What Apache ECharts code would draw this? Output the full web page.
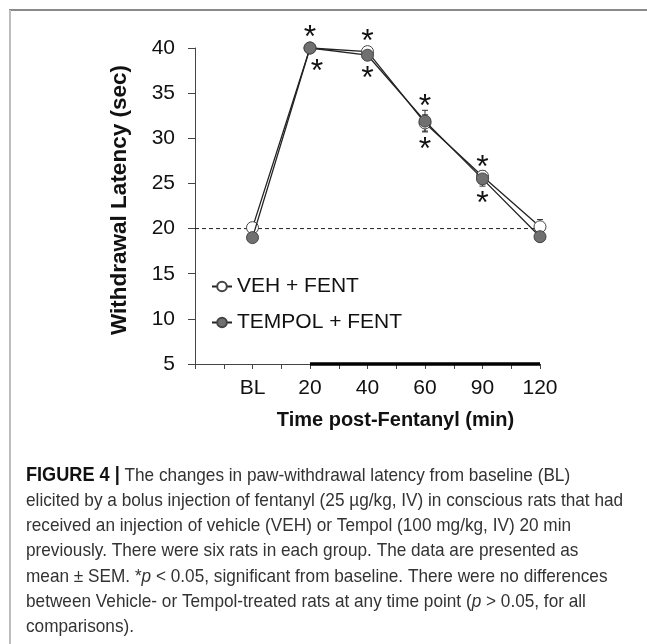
<!DOCTYPE html>
<html><head><meta charset="utf-8">
<script src="https://cdn.jsdelivr.net/npm/echarts@6/dist/echarts.min.js"></script>
<style>html,body{margin:0;padding:0;background:#fff}#c{width:647px;height:644px}</style>
</head><body><div id="c"></div>
<script>
// ---- data ----
const categories = ['BL', '20', '40', '60', '90', '120'];
const vehMean    = [20.1, 40.0, 39.6, 31.7, 25.8, 20.2];
const vehSem     = [0.4, 0.2, 0.4, 0.9, 0.6, 0.8];
const tempolMean = [19.0, 40.0, 39.2, 31.9, 25.5, 19.1];
const tempolSem  = [0.3, 0.2, 0.3, 1.2, 0.8, 0.3];
const vehSig     = [false, true, true, true, true, false];
const tempolSig  = [false, true, true, true, true, false];
const baselineValue = 20;
const fentanylStart = '20';
const fentanylEnd = '120';
const captionLines = [
  '{b|FIGURE 4 |} The changes in paw-withdrawal latency from baseline (BL)',
  'elicited by a bolus injection of fentanyl (25 µg/kg, IV) in conscious rats that had',
  'received an injection of vehicle (VEH) or Tempol (100 mg/kg, IV) 20 min',
  'previously. There were six rats in each group. The data are presented as',
  'mean ± SEM. *{i|p} < 0.05, significant from baseline. There were no differences',
  'between Vehicle- or Tempol-treated rats at any time point ({i|p} > 0.05, for all',
  'comparisons).'
];

// ---- helpers ----
const posOf = c => 2 * (categories.indexOf(c) + 1); // category slot on the axis
const FONT = '"Liberation Sans", Arial, sans-serif';

function pts(means, sig, offsets) {
  return means.map((m, i) => ({
    value: [posOf(categories[i]), m],
    label: {
      show: sig[i], formatter: '*', position: 'inside',
      offset: offsets[i],
      fontSize: 32, fontFamily: FONT, color: '#111'
    }
  }));
}
const vehOffsets = [[0,0],[0,-10],[0,-9],[0,-16],[0,-8],[0,0]];
const tempolOffsets = [[0,0],[7,24],[0,24],[0,29],[0,25],[0,0]];

function errData(means, sems) {
  return means.map((m, i) => [posOf(categories[i]), m, sems[i]]);
}
function errRender(params, api) {
  const x = api.value(0), m = api.value(1), s = api.value(2);
  const t = api.coord([x, m + s]), b = api.coord([x, m - s]);
  const w = 3;
  const st = { stroke: '#333', lineWidth: 1 };
  return { type: 'group', children: [
    { type: 'line', shape: { x1: t[0], y1: t[1], x2: b[0], y2: b[1] }, style: st },
    { type: 'line', shape: { x1: t[0]-w, y1: t[1], x2: t[0]+w, y2: t[1] }, style: st },
    { type: 'line', shape: { x1: b[0]-w, y1: b[1], x2: b[0]+w, y2: b[1] }, style: st }
  ]};
}

const chart = echarts.init(document.getElementById('c'), null, { renderer: 'canvas' });

const captionGraphics = captionLines.map((t, i) => ({
  type: 'text', x: 26, y: 466 + i * 25.3, scaleX: 0.93, scaleY: 1,
  style: {
    text: t, fill: '#333', font: '18.5px ' + FONT,
    rich: {
      b: { fontFamily: FONT, fontWeight: 'bold', fontSize: 19.5, fill: '#111' },
      i: { fontStyle: 'italic', fontFamily: FONT, fontSize: 18.5, fill: '#333' }
    }
  }
}));

chart.setOption({
  animation: false,
  backgroundColor: '#fff',
  grid: { left: 195, top: 48, width: 345, height: 316, containLabel: false },
  xAxis: {
    type: 'value', min: 0, max: 12, interval: 1,
    axisLine: { lineStyle: { color: '#444', width: 1 } },
    axisTick: { show: true, length: 5, lineStyle: { color: '#444' } },
    splitLine: { show: false },
    axisLabel: {
      margin: 14, fontSize: 21, fontFamily: FONT, color: '#111',
      formatter: v => (v > 0 && v % 2 === 0) ? categories[v / 2 - 1] : ''
    },
    name: 'Time post-Fentanyl (min)', nameLocation: 'middle', nameGap: 46,
    nameTextStyle: { fontSize: 20, fontWeight: 'bold', fontFamily: FONT, color: '#111', padding: [0, 0, 0, 56] }
  },
  yAxis: {
    type: 'value', min: 5, max: 40, interval: 5,
    axisLine: { show: true, lineStyle: { color: '#444', width: 1 } },
    axisTick: { show: true, length: 7, lineStyle: { color: '#444' } },
    splitLine: { show: false },
    axisLabel: { margin: 20, fontSize: 21, fontFamily: FONT, color: '#111' },
    name: 'Withdrawal Latency (sec)', nameLocation: 'middle', nameGap: 64,
    nameTextStyle: { fontSize: 22.5, fontWeight: 'bold', fontFamily: FONT, color: '#111', padding: [0, 0, 0, 12] }
  },
  legend: {
    orient: 'vertical', left: 211, top: 276, padding: 0, itemGap: 15,
    itemWidth: 20, itemHeight: 12,
    textStyle: { fontSize: 21, fontFamily: FONT, color: '#111' },
    data: ['VEH + FENT', 'TEMPOL + FENT']
  },
  graphic: [
    { type: 'line', shape: { x1: 9, y1: 10, x2: 647, y2: 10 }, style: { stroke: '#8a8a8a', lineWidth: 2 } },
    { type: 'line', shape: { x1: 10, y1: 10, x2: 10, y2: 644 }, style: { stroke: '#bdbdbd', lineWidth: 2 } },
    ...captionGraphics
  ],
  series: [
    {
      name: 'baseline', type: 'line', silent: true, clip: false, symbol: 'none', z: 1,
      data: [[0, baselineValue], [12.25, baselineValue]],
      lineStyle: { color: '#222', width: 1, type: [4, 3] }
    },
    {
      name: 'fentanyl', type: 'line', silent: true, clip: false, symbol: 'none', z: 3,
      data: [[posOf(fentanylStart), 5], [posOf(fentanylEnd), 5]],
      lineStyle: { color: '#000', width: 3.5 }
    },
    { name: 'vehErr', type: 'custom', renderItem: errRender, data: errData(vehMean, vehSem), z: 2, clip: false },
    { name: 'tempolErr', type: 'custom', renderItem: errRender, data: errData(tempolMean, tempolSem), z: 2, clip: false },
    {
      name: 'VEH + FENT', type: 'line', clip: false, z: 4,
      symbol: 'circle', symbolSize: 12,
      lineStyle: { color: '#222', width: 1.3 },
      itemStyle: { color: '#ffffff', borderColor: '#444', borderWidth: 1 },
      data: pts(vehMean, vehSig, vehOffsets)
    },
    {
      name: 'TEMPOL + FENT', type: 'line', clip: false, z: 5,
      symbol: 'circle', symbolSize: 12,
      lineStyle: { color: '#222', width: 1.3 },
      itemStyle: { color: '#707070', borderColor: '#444', borderWidth: 1 },
      data: pts(tempolMean, tempolSig, tempolOffsets)
    }
  ]
});
</script></body></html>
